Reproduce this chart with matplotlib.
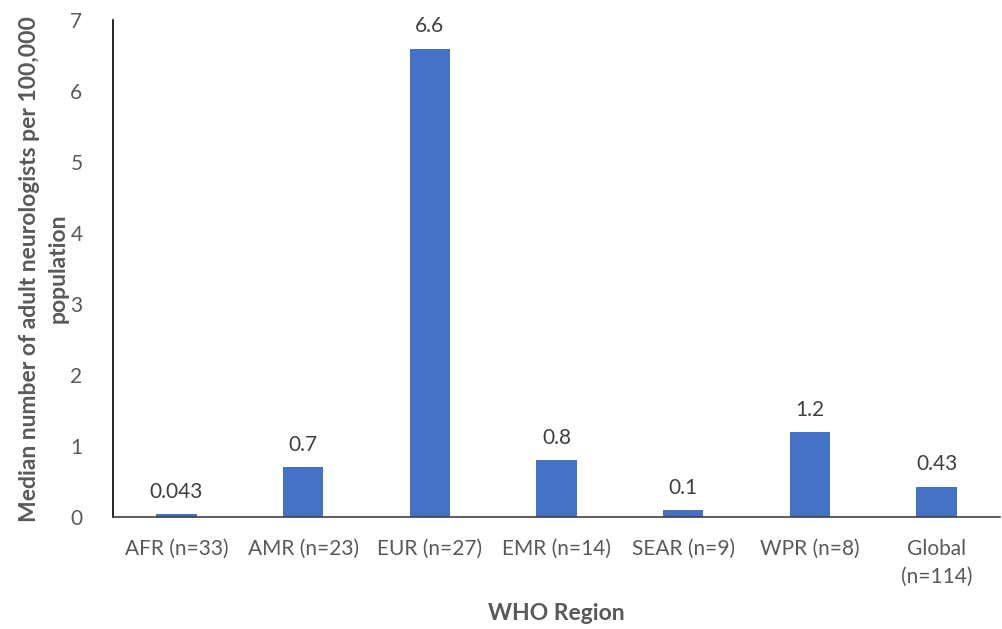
import matplotlib
matplotlib.use("Agg")
import matplotlib.pyplot as plt
import numpy as np

regions = ["AFR (n=33)", "AMR (n=23)", "EUR (n=27)", "EMR (n=14)",
           "SEAR (n=9)", "WPR (n=8)", "Global\n(n=114)"]
values = [0.043, 0.7, 6.6, 0.8, 0.1, 1.2, 0.43]
value_labels = ["0.043", "0.7", "6.6", "0.8", "0.1", "1.2", "0.43"]

plt.rcParams['font.family'] = ['Lato', 'DejaVu Sans']
gray = "#595959"
blue = "#4472C4"

fig = plt.figure(figsize=(10.02, 6.29), dpi=100)
ax = fig.add_axes([0.1128, 0.178, 0.8852, 0.79])

x = np.arange(len(regions))
bars = ax.bar(x, values, width=0.32, color=blue, zorder=2)
for xi, v, lab in zip(x, values, value_labels):
    ax.text(xi, v + 0.17, lab, ha="center", va="bottom", fontsize=15, color="#404040")

ax.set_xlim(-0.5, len(regions) - 0.5)
ax.set_ylim(0, 7)
ax.set_yticks(range(0, 8))
ax.set_xticks(x)
ax.set_xticklabels(regions, fontsize=15, color=gray, linespacing=1.45, va="top")
ax.tick_params(axis="y", labelsize=15, colors=gray, length=0, pad=22)
ax.tick_params(axis="x", length=0, pad=16)

for s in ["top", "right"]:
    ax.spines[s].set_visible(False)
ax.spines["left"].set_color("black")
ax.spines["left"].set_linewidth(1.2)
ax.spines["bottom"].set_color("#404040")
ax.spines["bottom"].set_linewidth(1.2)

ax.set_xlabel("WHO Region", fontsize=16.5, fontweight="bold", color=gray, labelpad=12)
ax.set_ylabel("Median number of adult neurologists per 100,000\npopulation",
              fontsize=16.5, fontweight="bold", color=gray, labelpad=1, linespacing=1.45)

fig.savefig("out.png", dpi=100)
